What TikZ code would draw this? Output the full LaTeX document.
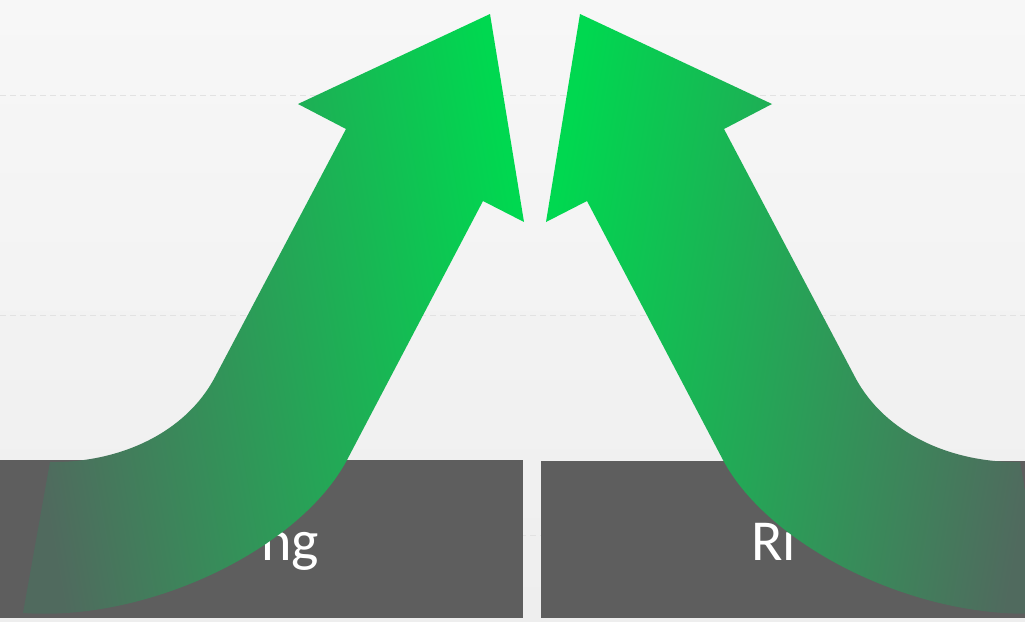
\documentclass[tikz,border=0pt]{standalone}
\usepackage{fontspec}
\newfontfamily\panelfont{Carlito}
\definecolor{bgtop}{RGB}{247,247,247}
\definecolor{bgbottom}{RGB}{238,238,238}
\definecolor{gridgray}{RGB}{226,226,226}
\definecolor{boxgray}{RGB}{94,94,94}
\definecolor{leafdark}{RGB}{80,106,94}
\definecolor{leafmid}{RGB}{40,160,86}
\definecolor{leafbright}{RGB}{0,216,80}

\begin{document}
\begin{tikzpicture}[x=1pt,y=-1pt,
    panel/.style={fill=boxgray,draw=none,inner sep=0pt,anchor=north west},
    paneltext/.style={text=white,inner sep=0pt,font=\panelfont\fontsize{58}{60}\selectfont},
    gridline/.style={gridgray,line width=1pt,dash pattern=on 6pt off 4pt},
    arrowleft/.style={left color=leafdark,middle color=leafmid,right color=leafbright,shading angle=100},
    arrowright/.style={left color=leafbright,middle color=leafmid,right color=leafdark,shading angle=80}]

    \useasboundingbox (0,0) rectangle (1025,621);
    \shade[top color=bgtop,bottom color=bgbottom] (0,0) rectangle (1025,621);

    % grid
    \draw[gridline] (0,95) -- (1025,95);
    \draw[gridline] (0,315) -- (1025,315);
    \draw[gridline] (0,535) -- (1025,535);

    \node[panel,minimum width=523pt,minimum height=158pt] (box1) at (0,460) {};
    \node[panel,minimum width=484pt,minimum height=157pt] (box2) at (541,461) {};

    \node[paneltext,anchor=base east] (ng) at (319,560) {ng};
    \node[paneltext,anchor=base west] (ri) at (751,560) {Ri};

    % left arrow
    \shade[arrowleft] (490,14) -- (524,222) -- (483,201) -- (347,460)
        .. controls (300,548) and (150,622) .. (23,613) -- (50,462)
        .. controls (118,463) and (185,434) .. (215,377) -- (346,129)
        -- (298,104) -- cycle;

    % right arrow
    \shade[arrowright] (580,14) -- (772,104) -- (724,129) -- (855,377)
        .. controls (885,434) and (952,463) .. (1020,462) -- (1047,613)
        .. controls (920,622) and (770,548) .. (723,460) -- (587,201)
        -- (546,222) -- cycle;

\end{tikzpicture}
\end{document}
